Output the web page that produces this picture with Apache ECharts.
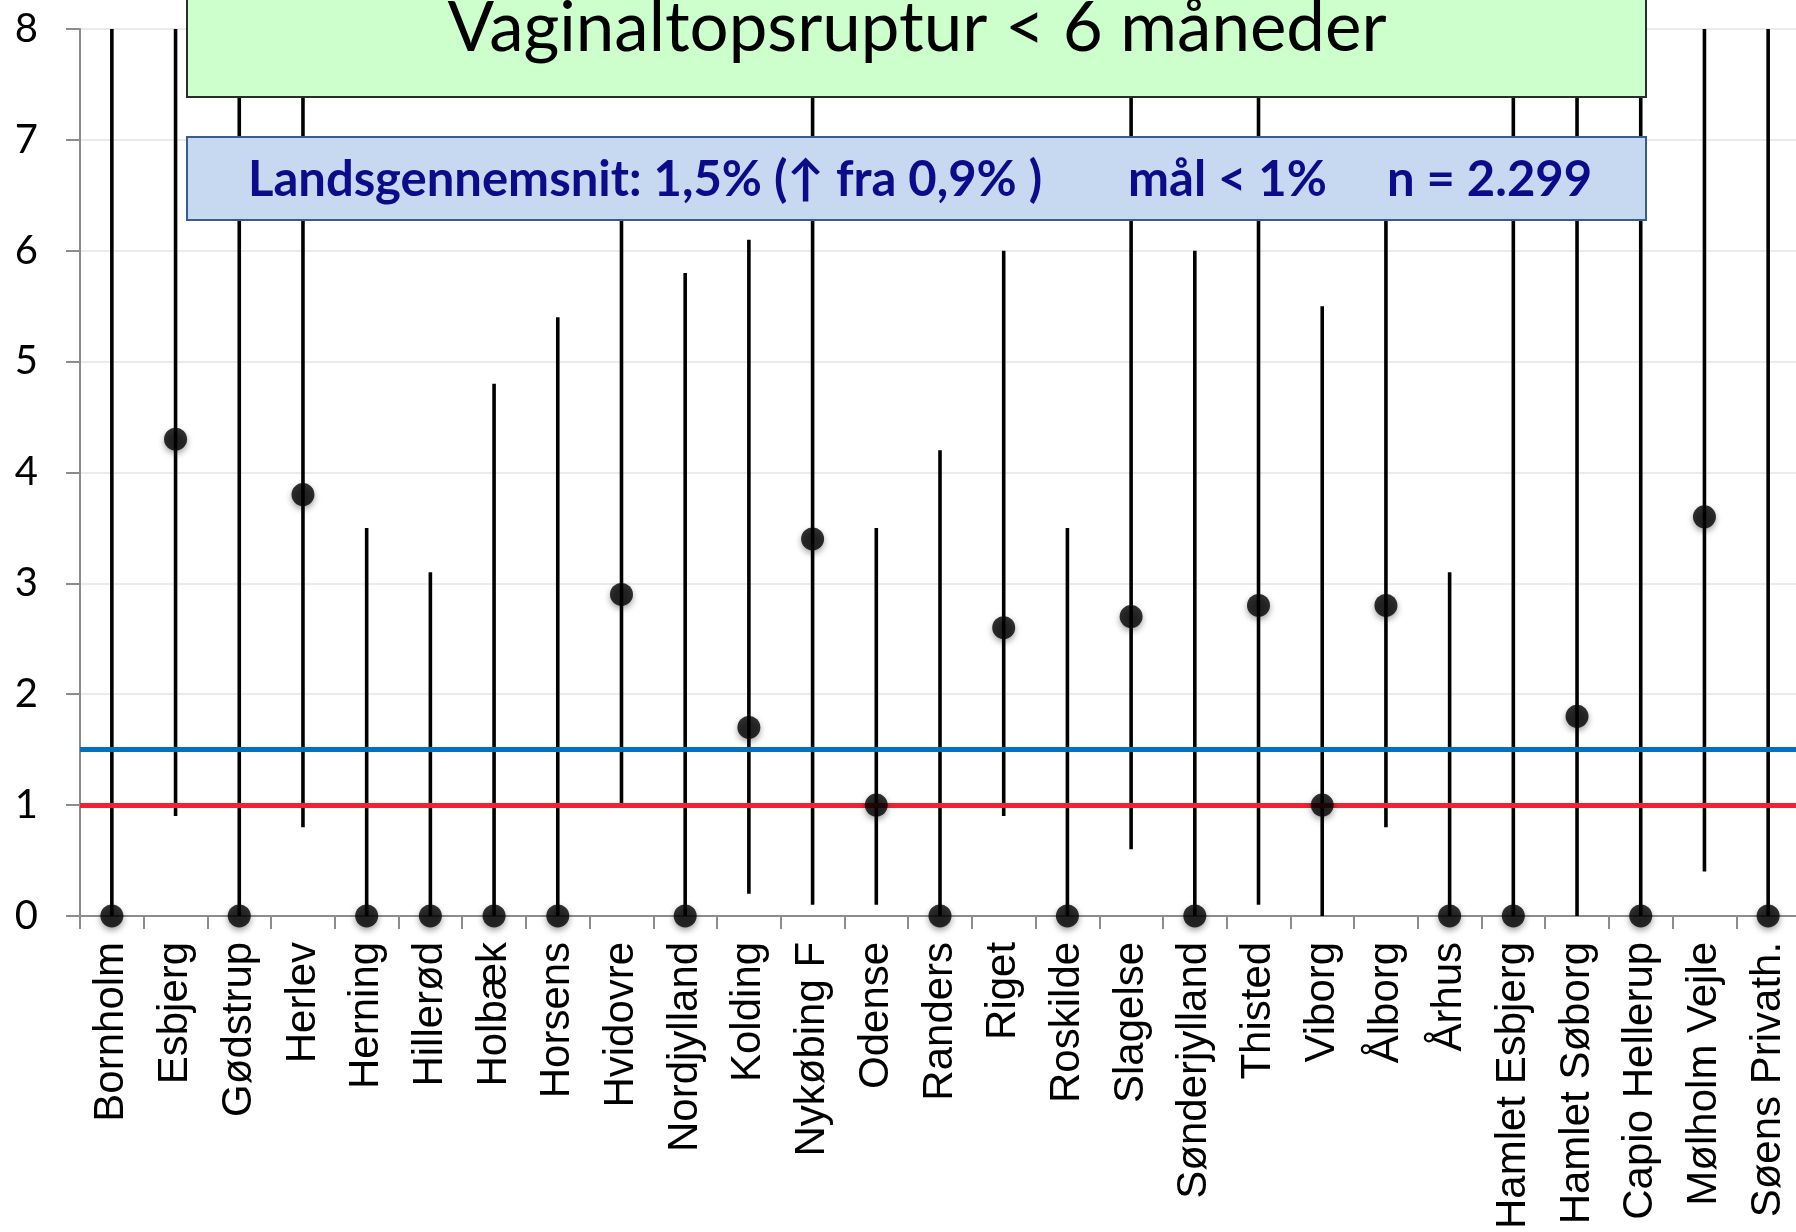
<!DOCTYPE html>
<html>
<head>
<meta charset="utf-8">
<title>Vaginaltopsruptur</title>
<script src="https://cdn.jsdelivr.net/npm/echarts@6/dist/echarts.min.js"></script>
<style>
  html, body { margin: 0; padding: 0; background: #fff; overflow: hidden; }
  /* a bit wider than the window: the x axis runs past the right edge */
  #chart { width: 1805px; height: 1232px; }
</style>
</head>
<body>
<div id="chart"></div>
<script>
// hospitals on the x axis
const hospitals = [
  "Bornholm", "Esbjerg", "Gødstrup", "Herlev", "Herning", "Hillerød", "Holbæk",
  "Horsens", "Hvidovre", "Nordjylland", "Kolding", "Nykøbing F", "Odense",
  "Randers", "Riget", "Roskilde", "Slagelse", "Sønderjylland", "Thisted",
  "Viborg", "Ålborg", "Århus", "Hamlet Esbjerg", "Hamlet Søborg",
  "Capio Hellerup", "Mølholm Vejle", "Søens Privath."
];

// rate in %
const rate = [0, 4.3, 0, 3.8, 0, 0, 0, 0, 2.9, 0, 1.7, 3.4, 1.0, 0, 2.6, 0, 2.7, 0, 2.8, 1.0, 2.8, 0, 0, 1.8, 0, 3.6, 0];
// confidence interval, lower and upper
const ciLow = [0, 0.9, 0, 0.8, 0, 0, 0, 0, 1.0, 0, 0.2, 0.1, 0.1, 0, 0.9, 0, 0.6, 0, 0.1, 0, 0.8, 0, 0, 0, 0, 0.4, 0];
const ciHigh = [8, 8, 8, 8, 3.5, 3.1, 4.8, 5.4, 7.0, 5.8, 6.1, 8, 3.5, 4.2, 6.0, 3.5, 8, 6.0, 8, 5.5, 7.0, 3.1, 8, 8, 8, 8, 8];

// reference lines
const nationalAvg = 1.5;
const target = 1.0;

const yTicks = { min: 0, max: 8, interval: 1 };

const title = "Vaginaltopsruptur < 6 måneder";
const subParts = ["Landsgennemsnit: 1,5% (↑ fra 0,9% )", "mål < 1%", "n = 2.299"];

const chart = echarts.init(document.getElementById("chart"));

const option = {
  animation: false,
  grid: { left: 80, right: 5, top: 29, bottom: 316, containLabel: false },
  xAxis: {
    type: "category",
    data: hospitals,
    axisLine: { lineStyle: { color: "#8c8c8c", width: 2 } },
    axisTick: { show: true, length: 13, lineStyle: { color: "#8c8c8c", width: 2 } },
    axisLabel: {
      rotate: 90,
      interval: 0,
      margin: 26,
      color: "#000",
      fontFamily: "Liberation Sans",
      fontSize: 42
    }
  },
  yAxis: {
    type: "value",
    min: yTicks.min,
    max: yTicks.max,
    interval: yTicks.interval,
    axisLine: { show: true, lineStyle: { color: "#8c8c8c", width: 2 } },
    axisTick: { show: true, length: 14, lineStyle: { color: "#8c8c8c", width: 2 } },
    splitLine: { lineStyle: { color: "#ebebeb", width: 2 } },
    axisLabel: { margin: 42, color: "#000", fontFamily: "Lato", fontSize: 40 }
  },
  series: [
    {
      // error bars
      type: "custom",
      z: 2,
      data: hospitals.map((h, i) => [i, ciLow[i], ciHigh[i]]),
      renderItem: function (params, api) {
        const lo = api.coord([api.value(0), api.value(1)]);
        const hi = api.coord([api.value(0), api.value(2)]);
        return {
          type: "line",
          shape: { x1: lo[0], y1: lo[1], x2: hi[0], y2: hi[1] },
          style: { stroke: "#000", lineWidth: 3.6 }
        };
      },
      markLine: {
        silent: true,
        symbol: "none",
        label: { show: false },
        z: 5,
        data: [
          { yAxis: nationalAvg, lineStyle: { color: "#0070c0", width: 5, type: "solid" } },
          { yAxis: target, lineStyle: { color: "#ee2433", width: 5, type: "solid" } }
        ]
      }
    },
    {
      type: "scatter",
      z: 10,
      symbol: "circle",
      symbolSize: 23,
      data: rate,
      itemStyle: {
        color: "#000",
        shadowBlur: 6,
        shadowOffsetY: 3,
        shadowColor: "rgba(0,0,0,0.45)"
      }
    }
  ],
  graphic: [
    {
      type: "rect",
      z: 100,
      shape: { x: 187, y: -5, width: 1459, height: 102 },
      style: { fill: "#ccffcc", stroke: "#2b2b2b", lineWidth: 2 }
    },
    {
      type: "text",
      z: 101,
      x: 917,
      y: 29,
      style: {
        text: title,
        fill: "#000",
        font: "69px Lato",
        textAlign: "center",
        textVerticalAlign: "middle"
      }
    },
    {
      type: "rect",
      z: 100,
      shape: { x: 187, y: 137, width: 1459, height: 83 },
      style: { fill: "#c6d9f1", stroke: "#385d8a", lineWidth: 2 }
    },
    { type: "text", z: 101, x: 248, y: 180,
      style: { text: subParts[0], fill: "#0c0c8a", font: "bold 49px Lato", textAlign: "left", textVerticalAlign: "middle" } },
    { type: "text", z: 101, x: 1128, y: 180,
      style: { text: subParts[1], fill: "#0c0c8a", font: "bold 49px Lato", textAlign: "left", textVerticalAlign: "middle" } },
    { type: "text", z: 101, x: 1387, y: 180,
      style: { text: subParts[2], fill: "#0c0c8a", font: "bold 49px Lato", textAlign: "left", textVerticalAlign: "middle" } }
  ]
};

chart.setOption(option);
</script>
</body>
</html>
